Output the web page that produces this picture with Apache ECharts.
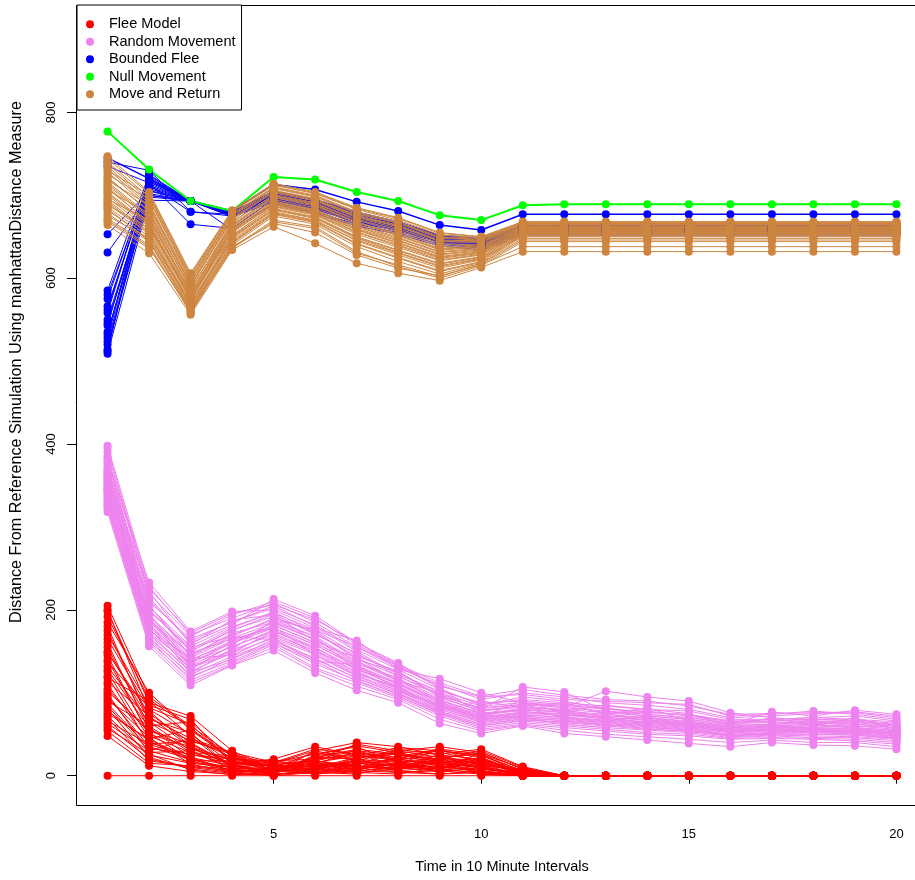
<!DOCTYPE html>
<html>
<head>
<meta charset="utf-8">
<script src="https://cdn.jsdelivr.net/npm/echarts@6/dist/echarts.min.js"></script>
<style>
  html, body { margin: 0; padding: 0; background: #ffffff; overflow: hidden; }
  #chart { width: 915px; height: 880px; }
</style>
</head>
<body>
<div id="chart"></div>
<script>
// Time steps (10-minute intervals)
const timeSteps = [1, 2, 3, 4, 5, 6, 7, 8, 9, 10, 11, 12, 13, 14, 15, 16, 17, 18, 19, 20];

// Tick positions
const xTicks = [5, 10, 15, 20];
const yTicks = [0, 200, 400, 600, 800];

// Legend entries
const groupNames = ['Flee Model', 'Random Movement', 'Bounded Flee', 'Null Movement', 'Move and Return'];

// Flee Model runs: distance per time step
const fleeModel = [
  [0, 0, 0, 0, 0, 0, 0, 0, 0, 0, 0, 0, 0, 0, 0, 0, 0, 0, 0, 0],
  [205, 95, 60, 25, 10, 20, 30, 25, 20, 15, 5, 0, 0, 0, 0, 0, 0, 0, 0, 0],
  [198, 88, 72, 30, 8, 12, 18, 30, 35, 28, 8, 0, 0, 0, 0, 0, 0, 0, 0, 0],
  [185, 100, 55, 20, 15, 30, 40, 35, 25, 20, 3, 0, 0, 0, 0, 0, 0, 0, 0, 0],
  [175, 70, 45, 28, 5, 8, 15, 12, 20, 30, 10, 0, 0, 0, 0, 0, 0, 0, 0, 0],
  [165, 80, 50, 15, 20, 35, 25, 20, 15, 10, 0, 0, 0, 0, 0, 0, 0, 0, 0, 0],
  [155, 60, 65, 22, 12, 10, 22, 28, 30, 25, 6, 0, 0, 0, 0, 0, 0, 0, 0, 0],
  [148, 75, 40, 12, 3, 25, 35, 15, 10, 8, 2, 0, 0, 0, 0, 0, 0, 0, 0, 0],
  [140, 50, 35, 18, 8, 5, 10, 22, 28, 18, 0, 0, 0, 0, 0, 0, 0, 0, 0, 0],
  [132, 65, 30, 10, 15, 18, 12, 8, 15, 22, 4, 0, 0, 0, 0, 0, 0, 0, 0, 0],
  [125, 45, 55, 25, 6, 15, 28, 20, 12, 5, 0, 0, 0, 0, 0, 0, 0, 0, 0, 0],
  [118, 90, 48, 8, 2, 6, 20, 32, 25, 12, 7, 0, 0, 0, 0, 0, 0, 0, 0, 0],
  [110, 40, 25, 20, 10, 28, 18, 10, 5, 20, 3, 0, 0, 0, 0, 0, 0, 0, 0, 0],
  [102, 55, 38, 14, 18, 12, 8, 15, 22, 26, 9, 0, 0, 0, 0, 0, 0, 0, 0, 0],
  [96, 35, 20, 6, 4, 20, 25, 18, 8, 3, 0, 0, 0, 0, 0, 0, 0, 0, 0, 0],
  [90, 60, 28, 16, 12, 8, 5, 12, 18, 15, 5, 0, 0, 0, 0, 0, 0, 0, 0, 0],
  [84, 30, 45, 22, 7, 22, 32, 26, 14, 10, 2, 0, 0, 0, 0, 0, 0, 0, 0, 0],
  [78, 42, 18, 5, 0, 4, 12, 6, 10, 18, 6, 0, 0, 0, 0, 0, 0, 0, 0, 0],
  [72, 25, 15, 10, 14, 16, 8, 24, 30, 22, 0, 0, 0, 0, 0, 0, 0, 0, 0, 0],
  [66, 38, 22, 12, 5, 10, 18, 14, 6, 8, 4, 0, 0, 0, 0, 0, 0, 0, 0, 0],
  [60, 20, 10, 4, 9, 2, 6, 10, 16, 12, 0, 0, 0, 0, 0, 0, 0, 0, 0, 0],
  [54, 15, 12, 8, 3, 14, 10, 4, 2, 6, 1, 0, 0, 0, 0, 0, 0, 0, 0, 0],
  [48, 12, 5, 2, 1, 6, 3, 8, 12, 4, 0, 0, 0, 0, 0, 0, 0, 0, 0, 0],
  [200, 78, 35, 12, 16, 26, 36, 28, 18, 9, 3, 0, 0, 0, 0, 0, 0, 0, 0, 0],
  [192, 92, 58, 18, 6, 16, 24, 34, 30, 24, 6, 0, 0, 0, 0, 0, 0, 0, 0, 0],
  [180, 65, 42, 26, 14, 4, 14, 20, 33, 14, 0, 0, 0, 0, 0, 0, 0, 0, 0, 0],
  [170, 85, 68, 14, 4, 30, 20, 16, 8, 28, 8, 0, 0, 0, 0, 0, 0, 0, 0, 0],
  [160, 55, 32, 20, 18, 20, 38, 30, 22, 16, 4, 0, 0, 0, 0, 0, 0, 0, 0, 0],
  [150, 68, 52, 8, 10, 12, 16, 8, 26, 32, 11, 0, 0, 0, 0, 0, 0, 0, 0, 0],
  [145, 48, 28, 24, 2, 24, 30, 18, 14, 6, 0, 0, 0, 0, 0, 0, 0, 0, 0, 0],
  [137, 82, 62, 16, 12, 6, 22, 26, 20, 20, 5, 0, 0, 0, 0, 0, 0, 0, 0, 0],
  [128, 58, 22, 6, 8, 18, 10, 14, 32, 26, 2, 0, 0, 0, 0, 0, 0, 0, 0, 0],
  [120, 38, 42, 28, 16, 32, 26, 12, 6, 12, 0, 0, 0, 0, 0, 0, 0, 0, 0, 0],
  [113, 72, 34, 12, 5, 9, 14, 28, 16, 18, 7, 0, 0, 0, 0, 0, 0, 0, 0, 0],
  [105, 52, 18, 18, 11, 14, 6, 20, 24, 8, 3, 0, 0, 0, 0, 0, 0, 0, 0, 0],
  [99, 28, 30, 8, 3, 22, 20, 10, 12, 20, 0, 0, 0, 0, 0, 0, 0, 0, 0, 0],
  [93, 46, 14, 4, 7, 2, 8, 16, 4, 10, 2, 0, 0, 0, 0, 0, 0, 0, 0, 0],
  [87, 33, 26, 14, 13, 18, 28, 22, 18, 2, 0, 0, 0, 0, 0, 0, 0, 0, 0, 0],
  [81, 22, 8, 3, 1, 8, 4, 2, 10, 14, 5, 0, 0, 0, 0, 0, 0, 0, 0, 0],
  [75, 44, 20, 9, 6, 12, 16, 6, 2, 4, 0, 0, 0, 0, 0, 0, 0, 0, 0, 0],
  [69, 18, 11, 6, 2, 4, 2, 12, 8, 16, 3, 0, 0, 0, 0, 0, 0, 0, 0, 0],
  [63, 30, 16, 11, 8, 16, 12, 8, 20, 10, 0, 0, 0, 0, 0, 0, 0, 0, 0, 0],
  [57, 26, 7, 1, 4, 10, 6, 4, 6, 2, 0, 0, 0, 0, 0, 0, 0, 0, 0, 0]
];

// Random Movement runs
const randomMovement = [
  [398, 228, 170, 190, 208, 185, 155, 130, 110, 92, 100, 95, 88, 85, 80, 70, 72, 75, 76, 70],
  [390, 215, 160, 182, 213, 193, 160, 136, 105, 85, 95, 90, 80, 78, 72, 65, 68, 70, 68, 65],
  [382, 233, 174, 198, 200, 178, 163, 128, 117, 100, 88, 82, 102, 95, 90, 76, 70, 66, 62, 60],
  [375, 205, 150, 175, 195, 170, 148, 120, 98, 80, 107, 101, 78, 72, 68, 62, 77, 72, 79, 74],
  [370, 198, 155, 168, 190, 175, 140, 125, 95, 78, 85, 78, 85, 80, 75, 60, 62, 65, 60, 58],
  [365, 192, 145, 172, 185, 165, 138, 115, 92, 74, 80, 76, 72, 70, 65, 58, 60, 62, 58, 55],
  [360, 188, 140, 160, 182, 160, 135, 118, 88, 72, 82, 80, 70, 68, 62, 56, 58, 58, 56, 52],
  [356, 185, 148, 165, 178, 158, 132, 110, 90, 76, 78, 72, 75, 66, 64, 55, 57, 56, 55, 50],
  [352, 182, 138, 155, 176, 155, 128, 112, 86, 70, 76, 74, 68, 64, 60, 54, 56, 55, 54, 49],
  [348, 195, 132, 150, 172, 150, 130, 106, 84, 68, 74, 70, 66, 62, 58, 52, 54, 53, 52, 48],
  [345, 178, 128, 158, 186, 168, 126, 104, 82, 66, 72, 68, 64, 60, 56, 50, 52, 52, 50, 46],
  [342, 175, 142, 145, 168, 148, 122, 108, 80, 64, 70, 66, 62, 58, 55, 48, 50, 50, 49, 45],
  [338, 172, 135, 162, 180, 145, 120, 100, 78, 62, 68, 64, 60, 56, 54, 47, 49, 48, 47, 44],
  [334, 170, 125, 140, 165, 140, 118, 98, 76, 60, 66, 62, 58, 55, 52, 46, 48, 46, 46, 42],
  [330, 168, 120, 138, 160, 135, 115, 96, 74, 58, 64, 60, 56, 52, 50, 45, 46, 45, 44, 40],
  [326, 165, 115, 136, 158, 130, 112, 94, 72, 56, 62, 58, 54, 50, 48, 44, 45, 44, 42, 38],
  [322, 160, 112, 134, 155, 128, 108, 92, 68, 54, 61, 55, 50, 47, 44, 40, 43, 40, 40, 35],
  [318, 156, 109, 133, 151, 124, 103, 88, 63, 51, 60, 51, 47, 43, 39, 35, 40, 37, 36, 32],
  [362, 210, 165, 185, 205, 180, 150, 122, 102, 88, 90, 86, 82, 74, 70, 64, 66, 68, 66, 62],
  [385, 200, 152, 178, 198, 172, 144, 126, 96, 82, 86, 84, 76, 76, 74, 66, 64, 64, 64, 60],
  [368, 222, 158, 188, 194, 162, 142, 114, 100, 79, 84, 88, 74, 82, 66, 60, 70, 60, 70, 56],
  [340, 190, 130, 148, 175, 152, 125, 102, 85, 70, 92, 74, 70, 64, 60, 53, 55, 54, 53, 52],
  [395, 220, 168, 194, 210, 190, 158, 133, 108, 95, 98, 92, 90, 88, 86, 72, 74, 78, 74, 68],
  [378, 212, 162, 186, 202, 182, 152, 128, 104, 86, 92, 88, 84, 80, 78, 68, 68, 70, 72, 66],
  [372, 204, 156, 180, 196, 176, 146, 124, 100, 84, 88, 85, 80, 77, 73, 66, 66, 68, 67, 63],
  [366, 200, 150, 176, 192, 172, 142, 120, 97, 81, 86, 82, 78, 74, 70, 63, 64, 66, 65, 61],
  [358, 194, 146, 170, 188, 168, 138, 117, 94, 78, 83, 80, 76, 72, 68, 61, 62, 63, 62, 58],
  [354, 190, 142, 166, 184, 164, 136, 114, 91, 75, 81, 78, 74, 70, 66, 59, 61, 61, 60, 56],
  [350, 186, 139, 163, 181, 161, 133, 112, 89, 73, 79, 77, 72, 69, 64, 58, 59, 60, 58, 54],
  [346, 183, 136, 160, 178, 158, 131, 110, 87, 71, 77, 75, 70, 67, 63, 57, 58, 58, 57, 53],
  [343, 180, 133, 156, 174, 154, 128, 108, 85, 69, 75, 73, 69, 65, 61, 55, 56, 57, 56, 51],
  [336, 176, 130, 152, 170, 150, 124, 105, 83, 67, 73, 71, 67, 63, 59, 53, 55, 55, 54, 50],
  [332, 172, 126, 148, 166, 146, 121, 102, 80, 65, 71, 69, 65, 61, 57, 52, 53, 54, 52, 48],
  [328, 166, 122, 144, 162, 142, 117, 99, 77, 62, 69, 67, 63, 59, 55, 50, 51, 52, 51, 47],
  [324, 162, 118, 142, 160, 138, 114, 96, 75, 60, 67, 65, 61, 57, 53, 49, 50, 50, 49, 45],
  [380, 226, 172, 196, 206, 188, 161, 134, 112, 96, 104, 97, 92, 90, 84, 74, 75, 76, 77, 72],
  [363, 184, 124, 152, 188, 176, 156, 132, 106, 74, 70, 62, 58, 66, 62, 54, 60, 56, 52, 54],
  [347, 206, 144, 168, 164, 138, 134, 104, 78, 90, 82, 70, 66, 72, 58, 48, 52, 62, 58, 44]
];

// Bounded Flee runs
const boundedFlee = [
  [745, 720, 693, 681, 713, 707, 692, 681, 664, 658, 677, 677, 677, 677, 677, 677, 677, 677, 677, 677],
  [740, 730, 680, 675, 700, 690, 675, 665, 650, 645, 662, 663, 663, 663, 663, 663, 663, 663, 663, 663],
  [735, 715, 665, 660, 695, 685, 670, 660, 648, 640, 660, 661, 661, 661, 661, 661, 661, 661, 661, 661],
  [653, 705, 693, 678, 698, 688, 672, 662, 646, 642, 658, 658, 658, 658, 658, 658, 658, 658, 658, 658],
  [631, 700, 693, 676, 696, 684, 668, 658, 644, 638, 656, 656, 656, 656, 656, 656, 656, 656, 656, 656],
  [585, 725, 693, 680, 705, 695, 680, 668, 652, 648, 664, 664, 664, 664, 664, 664, 664, 664, 664, 664],
  [575, 718, 693, 679, 702, 692, 678, 666, 650, 646, 660, 660, 660, 660, 660, 660, 660, 660, 660, 660],
  [566, 712, 693, 677, 699, 689, 674, 664, 648, 643, 659, 659, 659, 659, 659, 659, 659, 659, 659, 659],
  [558, 722, 693, 680, 703, 694, 679, 667, 651, 647, 663, 662, 662, 662, 662, 662, 662, 662, 662, 662],
  [550, 708, 693, 676, 697, 686, 671, 661, 645, 640, 657, 657, 657, 657, 657, 657, 657, 657, 657, 657],
  [543, 716, 693, 679, 701, 691, 676, 665, 649, 644, 661, 661, 661, 661, 661, 661, 661, 661, 661, 661],
  [535, 702, 693, 675, 694, 683, 667, 657, 643, 637, 655, 655, 655, 655, 655, 655, 655, 655, 655, 655],
  [528, 713, 680, 677, 700, 690, 673, 663, 647, 642, 660, 660, 660, 660, 660, 660, 660, 660, 660, 660],
  [520, 698, 693, 674, 692, 680, 665, 655, 641, 636, 654, 654, 654, 654, 654, 654, 654, 654, 654, 654],
  [514, 710, 693, 678, 699, 688, 672, 662, 646, 641, 658, 658, 658, 658, 658, 658, 658, 658, 658, 658],
  [509, 694, 693, 658, 690, 678, 663, 653, 639, 634, 652, 652, 652, 652, 652, 652, 652, 652, 652, 652],
  [580, 714, 693, 679, 700, 690, 674, 664, 648, 643, 659, 659, 659, 659, 659, 659, 659, 659, 659, 659],
  [562, 720, 693, 680, 702, 692, 676, 665, 649, 644, 660, 660, 660, 660, 660, 660, 660, 660, 660, 660],
  [546, 706, 693, 677, 698, 687, 671, 661, 645, 640, 657, 657, 657, 657, 657, 657, 657, 657, 657, 657],
  [532, 717, 693, 679, 701, 691, 675, 664, 648, 643, 659, 659, 659, 659, 659, 659, 659, 659, 659, 659],
  [524, 700, 693, 676, 696, 685, 669, 659, 644, 639, 656, 656, 656, 656, 656, 656, 656, 656, 656, 656],
  [512, 724, 693, 680, 704, 694, 679, 667, 651, 646, 662, 662, 662, 662, 662, 662, 662, 662, 662, 662]
];

// Null Movement run
const nullMovement = [
  [777, 731, 693, 681, 722, 719, 704, 693, 676, 670, 688, 689, 689, 689, 689, 689, 689, 689, 689, 689]
];

// Move and Return runs
const moveAndReturn = [
  [747, 704, 606, 682, 714, 704, 685, 673, 655, 650, 668, 668, 668, 668, 668, 668, 668, 668, 668, 668],
  [740, 698, 600, 678, 710, 700, 680, 668, 650, 648, 666, 666, 666, 666, 666, 666, 666, 666, 666, 666],
  [735, 690, 595, 675, 706, 696, 676, 664, 646, 645, 664, 664, 664, 664, 664, 664, 664, 664, 664, 664],
  [728, 685, 590, 672, 703, 693, 673, 660, 642, 643, 662, 662, 662, 662, 662, 662, 662, 662, 662, 662],
  [722, 680, 586, 668, 700, 690, 670, 656, 638, 640, 661, 661, 661, 661, 661, 661, 661, 661, 661, 661],
  [716, 676, 583, 665, 698, 688, 668, 652, 635, 638, 660, 660, 660, 660, 660, 660, 660, 660, 660, 660],
  [712, 672, 580, 662, 695, 685, 665, 649, 632, 636, 659, 659, 659, 659, 659, 659, 659, 659, 659, 659],
  [708, 668, 578, 660, 693, 683, 662, 646, 629, 634, 658, 658, 658, 658, 658, 658, 658, 658, 658, 658],
  [704, 665, 575, 658, 690, 680, 659, 643, 626, 632, 657, 657, 657, 657, 657, 657, 657, 657, 657, 657],
  [700, 662, 573, 655, 688, 678, 656, 640, 624, 630, 656, 656, 656, 656, 656, 656, 656, 656, 656, 656],
  [697, 659, 570, 652, 686, 676, 653, 637, 621, 628, 655, 655, 655, 655, 655, 655, 655, 655, 655, 655],
  [694, 656, 568, 650, 684, 674, 650, 634, 618, 626, 654, 654, 654, 654, 654, 654, 654, 654, 654, 654],
  [690, 653, 566, 648, 682, 672, 648, 631, 615, 624, 653, 653, 653, 653, 653, 653, 653, 653, 653, 653],
  [686, 650, 564, 646, 680, 670, 645, 628, 612, 622, 652, 652, 652, 652, 652, 652, 652, 652, 652, 652],
  [682, 647, 562, 643, 678, 668, 642, 625, 609, 620, 650, 650, 650, 650, 650, 650, 650, 650, 650, 650],
  [678, 644, 560, 640, 675, 665, 638, 620, 605, 618, 648, 648, 648, 648, 648, 648, 648, 648, 648, 648],
  [672, 640, 558, 637, 670, 662, 632, 614, 600, 615, 644, 644, 644, 644, 644, 644, 644, 644, 644, 644],
  [664, 630, 556, 634, 662, 642, 618, 606, 597, 613, 632, 632, 632, 632, 632, 632, 632, 632, 632, 632],
  [725, 695, 598, 676, 708, 698, 678, 666, 648, 646, 665, 665, 665, 665, 665, 665, 665, 665, 665, 665],
  [718, 688, 592, 670, 704, 694, 674, 662, 644, 644, 663, 663, 663, 663, 663, 663, 663, 663, 663, 663],
  [706, 678, 588, 664, 699, 689, 667, 654, 636, 639, 660, 660, 660, 660, 660, 660, 660, 660, 660, 660],
  [695, 670, 584, 657, 692, 682, 660, 645, 628, 633, 657, 657, 657, 657, 657, 657, 657, 657, 657, 657],
  [688, 660, 580, 651, 687, 677, 655, 639, 622, 629, 655, 655, 655, 655, 655, 655, 655, 655, 655, 655],
  [675, 648, 572, 644, 679, 669, 646, 630, 614, 623, 651, 651, 651, 651, 651, 651, 651, 651, 651, 651],
  [668, 636, 562, 638, 666, 655, 628, 612, 603, 616, 638, 638, 638, 638, 638, 638, 638, 638, 638, 638],
  [730, 700, 602, 680, 712, 702, 683, 670, 652, 649, 667, 667, 667, 667, 667, 667, 667, 667, 667, 667],
  [744, 702, 604, 681, 713, 703, 684, 672, 654, 650, 668, 668, 668, 668, 668, 668, 668, 668, 668, 668],
  [738, 694, 598, 677, 709, 699, 679, 667, 649, 647, 666, 666, 666, 666, 666, 666, 666, 666, 666, 666],
  [732, 687, 593, 673, 705, 695, 675, 663, 645, 645, 665, 665, 665, 665, 665, 665, 665, 665, 665, 665],
  [720, 682, 587, 667, 701, 691, 671, 658, 640, 641, 662, 662, 662, 662, 662, 662, 662, 662, 662, 662],
  [714, 674, 582, 663, 697, 687, 667, 651, 634, 637, 661, 661, 661, 661, 661, 661, 661, 661, 661, 661],
  [702, 664, 574, 656, 689, 679, 658, 642, 625, 631, 658, 658, 658, 658, 658, 658, 658, 658, 658, 658],
  [692, 654, 567, 649, 683, 673, 649, 633, 617, 625, 656, 656, 656, 656, 656, 656, 656, 656, 656, 656],
  [684, 645, 563, 642, 677, 667, 641, 624, 608, 619, 654, 654, 654, 654, 654, 654, 654, 654, 654, 654],
  [670, 638, 559, 636, 668, 660, 630, 616, 602, 617, 646, 646, 646, 646, 646, 646, 646, 646, 646, 646],
  [710, 666, 576, 659, 691, 681, 663, 648, 631, 635, 659, 659, 659, 659, 659, 659, 659, 659, 659, 659]
];

const FONT = '"Liberation Sans", Arial, Helvetica, sans-serif';

// Each run becomes its own line series; runs of a group share name and colour
function runSeries(name, color, runs, width) {
  return runs.map((run, k) => ({
    type: 'line',
    name: name,
    data: run.map((v, i) => [timeSteps[i], v]),
    symbol: 'circle',
    symbolSize: 8,
    showSymbol: true,
    showAllSymbol: true,
    clip: false,
    lineStyle: { color: color, width: typeof width === 'function' ? width(k) : width },
    itemStyle: { color: color },
    emphasis: { disabled: true },
    silent: true,
    animation: false
  }));
}

const series = [].concat(
  runSeries(groupNames[0], '#FF0000', fleeModel, 1),
  runSeries(groupNames[1], '#EE82EE', randomMovement, 1),
  runSeries(groupNames[2], '#0000FF', boundedFlee, k => (k === 0 ? 1.5 : 1)),
  runSeries(groupNames[3], '#00FF00', nullMovement, 2),
  runSeries(groupNames[4], '#CD853F', moveAndReturn, 1)
);

const chart = echarts.init(document.getElementById('chart'), null, { renderer: 'canvas' });

// Plot frame: left, top and bottom edges (the right edge lies beyond the canvas)
const PLOT_LEFT = 76.5, PLOT_TOP = 5.5, PLOT_BOTTOM = 805.5, PLOT_RIGHT = 940;

chart.setOption({
  backgroundColor: '#ffffff',
  animation: false,
  textStyle: { fontFamily: FONT },
  grid: {
    left: 76,
    top: 5,
    width: 852,
    height: 800,
    show: false,
    containLabel: false,
    outerBoundsMode: 'none'
  },
  xAxis: {
    type: 'value',
    min: 0.24,
    max: 20.76,
    axisLine: { show: false },
    splitLine: { show: false },
    axisTick: { show: true, inside: false, length: 8, customValues: xTicks, lineStyle: { color: '#000', width: 1 } },
    axisLabel: { show: true, customValues: xTicks, margin: 23, fontSize: 13, color: '#000', fontFamily: FONT }
  },
  yAxis: {
    type: 'value',
    min: -35.3,
    max: 929.4,
    axisLine: { show: false },
    splitLine: { show: false },
    axisTick: { show: true, inside: false, length: 9, customValues: yTicks, lineStyle: { color: '#000', width: 1 } },
    axisLabel: { show: true, customValues: yTicks, rotate: 90, margin: 18, fontSize: 13, color: '#000', fontFamily: FONT }
  },
  legend: {
    data: groupNames.map(n => ({ name: n, icon: 'circle' })),
    orient: 'vertical',
    left: 77,
    top: 5,
    itemWidth: 24,
    itemHeight: 8,
    itemGap: 0,
    padding: [10.5, 6, 7, 9],
    backgroundColor: '#ffffff',
    borderColor: '#000000',
    borderWidth: 1,
    borderRadius: 0,
    selectedMode: false,
    textStyle: { fontSize: 14.5, color: '#000', fontFamily: FONT, lineHeight: 17.5, padding: [0, 0, 0, 2] },
    z: 10
  },
  graphic: [
    {
      type: 'polyline',
      silent: true,
      z: 5,
      shape: { points: [[PLOT_RIGHT, PLOT_TOP], [PLOT_LEFT, PLOT_TOP], [PLOT_LEFT, PLOT_BOTTOM], [PLOT_RIGHT, PLOT_BOTTOM]] },
      style: { stroke: '#000000', lineWidth: 1, fill: null }
    },
    {
      type: 'text',
      x: 502,
      y: 867,
      style: { text: 'Time in 10 Minute Intervals', fontSize: 14.5, fontFamily: FONT, fill: '#000', align: 'center', verticalAlign: 'middle' }
    },
    {
      type: 'text',
      x: 17,
      y: 362,
      rotation: Math.PI / 2,
      style: { text: 'Distance From Reference Simulation Using manhattanDistance Measure', fontSize: 16.2, fontFamily: FONT, fill: '#000', align: 'center', verticalAlign: 'middle' }
    }
  ],
  series: series
});
</script>
</body>
</html>
